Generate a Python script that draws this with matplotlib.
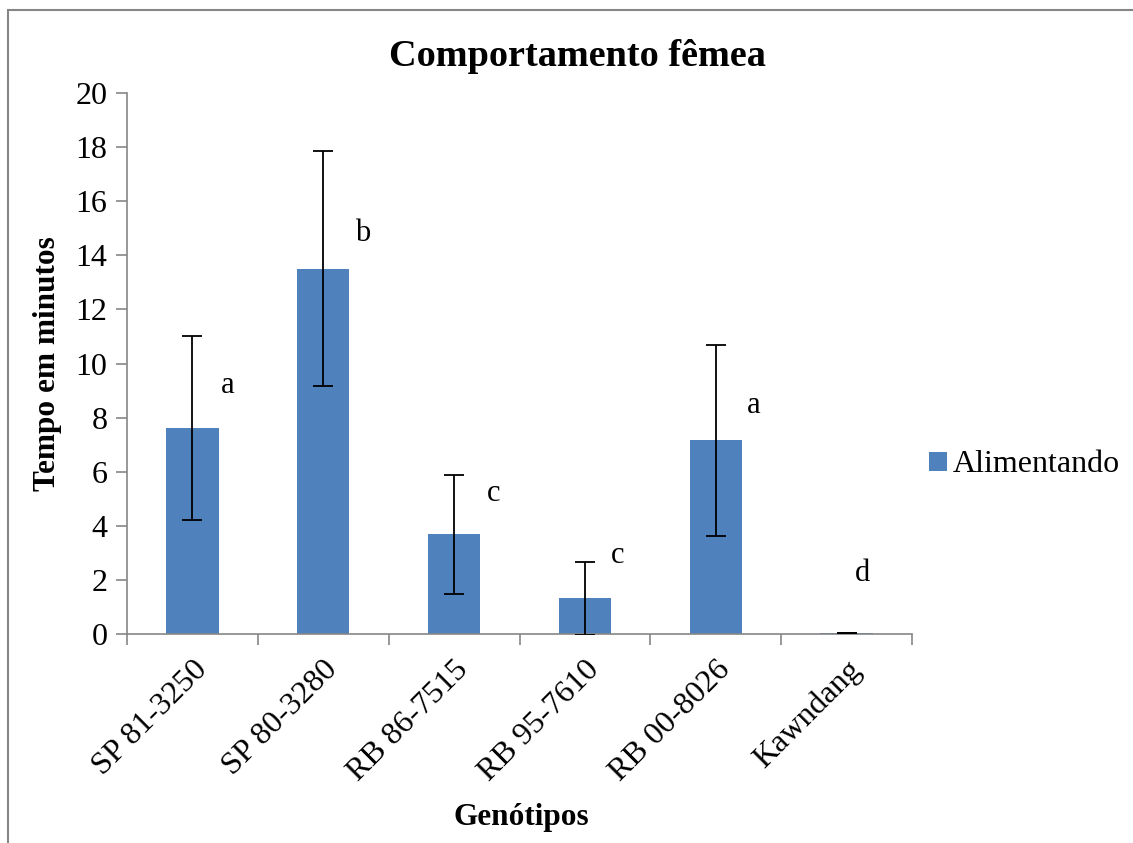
import numpy as np
import matplotlib
matplotlib.use("Agg")
import matplotlib.pyplot as plt
import matplotlib.patches as mpatches

plt.rcParams['font.family'] = ['Liberation Serif', 'DejaVu Serif']

# data
genotipos = ['SP 81-3250', 'SP 80-3280', 'RB 86-7515', 'RB 95-7610', 'RB 00-8026', 'Kawndang']
alimentando = [7.62, 13.5, 3.68, 1.33, 7.16, 0.03]
erro = [3.4, 4.35, 2.2, 1.35, 3.52, 0.0]
letras = ['a', 'b', 'c', 'c', 'a', 'd']
letra_y = [9.2, 14.8, 5.2, 2.9, 8.45, 2.25]
letra_dx = [0.27, 0.30, 0.30, 0.25, 0.29, 0.12]

cor = '#4F81BD'
cinza = '#868686'

fig = plt.figure(figsize=(11.33, 8.43), dpi=100)
ax = fig.add_axes([0.1121, 0.2479, 0.805 - 0.1121, 0.8897 - 0.2479])

x = np.arange(len(genotipos))
ax.bar(x, alimentando, width=0.4, color=cor, label='Alimentando', zorder=2)
ax.errorbar(x, alimentando, yerr=erro, fmt='none', ecolor='black',
            elinewidth=1.3, capsize=7, capthick=1.3, zorder=3)

for xi, dx, yi, t in zip(x, letra_dx, letra_y, letras):
    ax.text(xi + dx, yi, t, fontsize=22, ha='center', va='center')

ax.set_xlim(-0.5, len(genotipos) - 0.5)
ax.set_ylim(0, 20)
ax.set_yticks(np.arange(0, 21, 2))
ax.tick_params(axis='y', labelsize=23, length=8, width=1.2, color=cinza, pad=6)

# category labels at bar centres, tick marks at the boundaries
ax.set_xticks(x)
ax.set_xticklabels(genotipos, rotation=45, ha='right', rotation_mode='anchor', fontsize=23)
ax.tick_params(axis='x', length=0, pad=15)
ax.set_xticks(np.arange(-0.5, len(genotipos)), minor=True)
ax.tick_params(axis='x', which='minor', length=8, width=1.2, color=cinza)

for s in ['top', 'right']:
    ax.spines[s].set_visible(False)
for s in ['left', 'bottom']:
    ax.spines[s].set_color(cinza)
    ax.spines[s].set_linewidth(1.2)

fig.text(577 / 1133, 1 - 56 / 843, 'Comportamento fêmea', fontsize=27.5,
         fontweight='bold', ha='center', va='center')
ax.set_ylabel('Tempo em minutos', fontsize=22.5, fontweight='bold', labelpad=10)
fig.text(521 / 1133, 1 - 818 / 843, 'Genótipos', fontsize=22.5,
         fontweight='bold', ha='center', va='center')

ax.legend(loc='center left', bbox_to_anchor=(929 / 1133, 1 - 465 / 843),
          bbox_transform=fig.transFigure, frameon=False, fontsize=23,
          handlelength=0.55, handleheight=0.55, handletextpad=0.2,
          borderaxespad=0, borderpad=0)

# outer chart frame (only left and top edges visible in the reference)
fig.patches.append(mpatches.Rectangle((8 / 1133, -0.2), 1.5, 1.2 - 10 / 843,
                                      transform=fig.transFigure, fill=False,
                                      edgecolor=cinza, linewidth=1.5))

fig.savefig('out.png', dpi=100)
